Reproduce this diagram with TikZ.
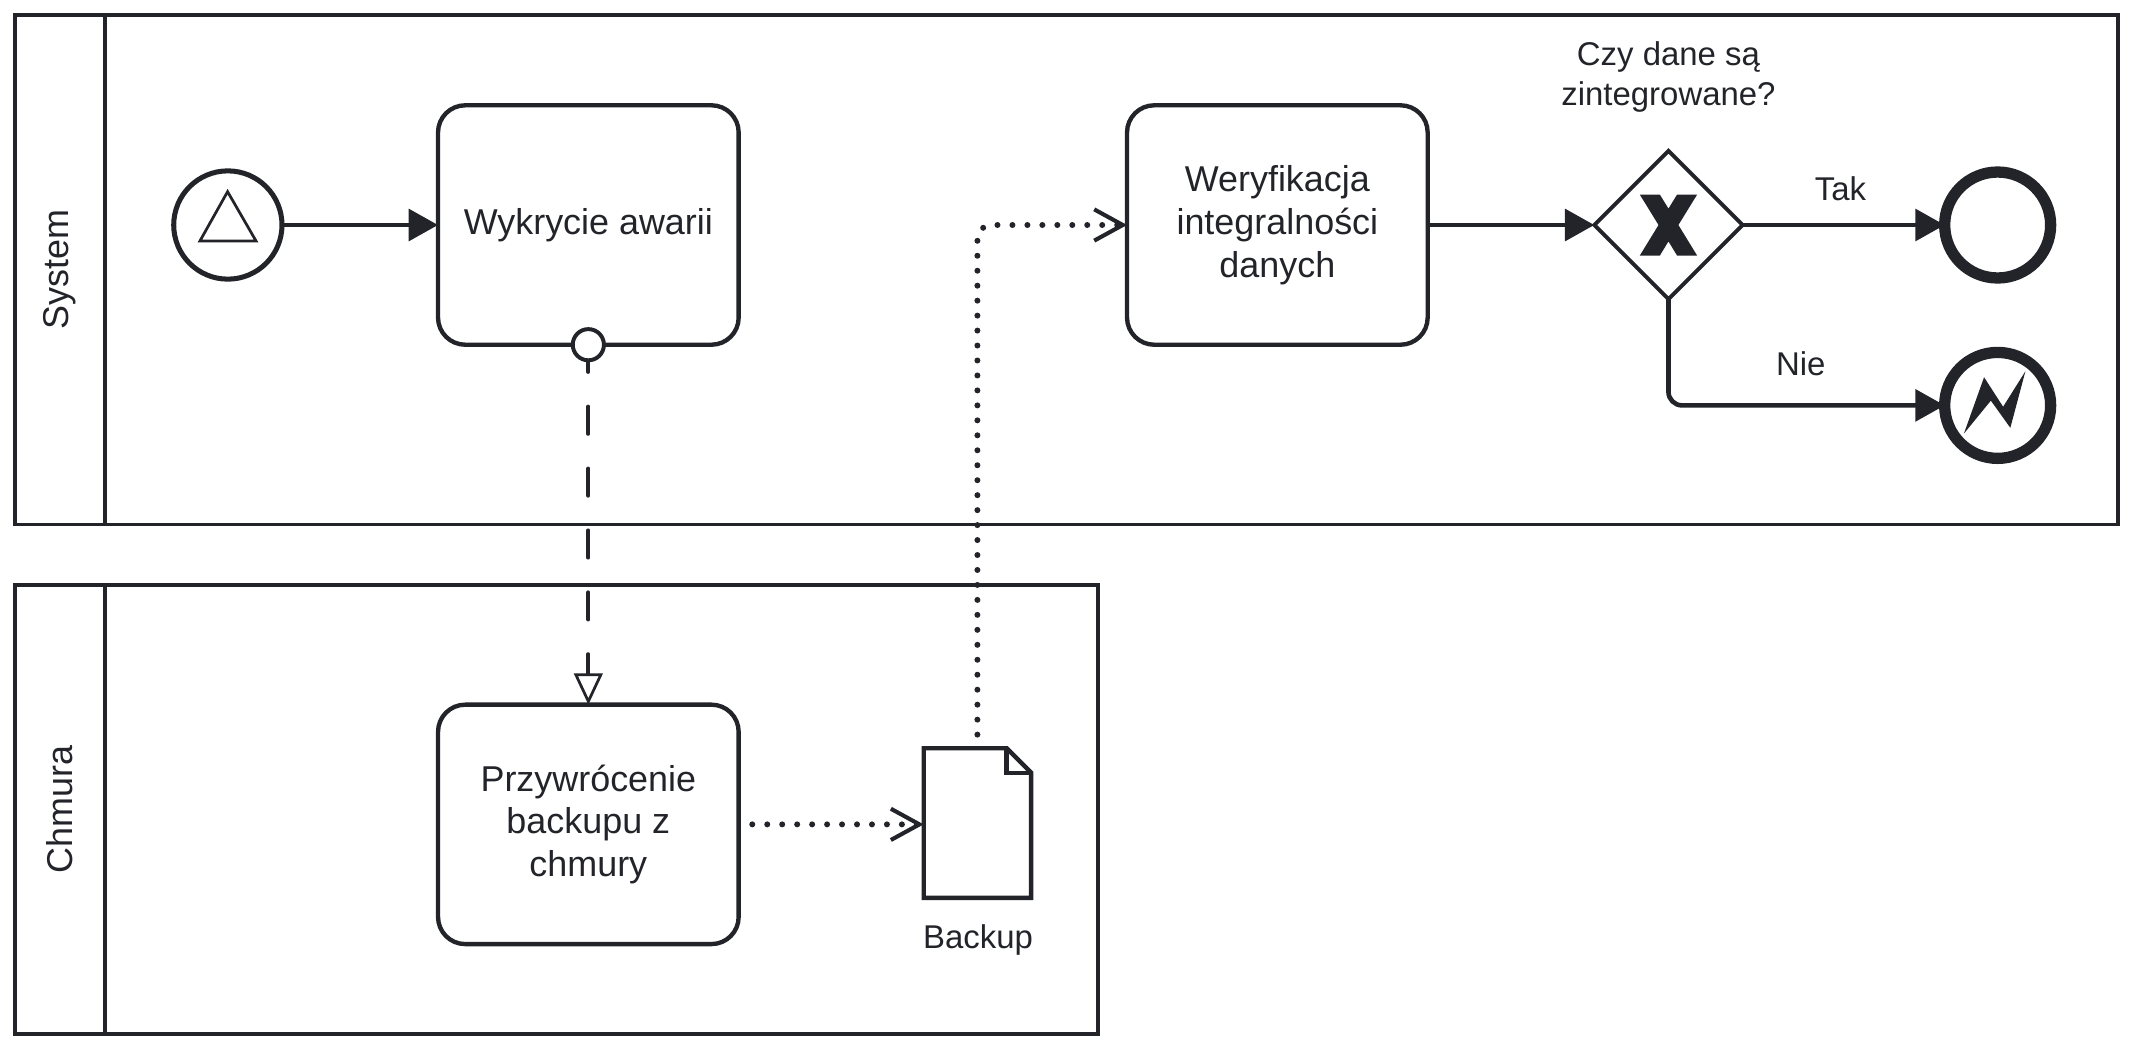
\documentclass[tikz,border=0pt]{standalone}
\usepackage{fontspec}
\setmainfont{Liberation Sans}
\usetikzlibrary{arrows.meta,shapes.geometric,calc}
\definecolor{ink}{HTML}{22242A}
\begin{document}
\begin{tikzpicture}[x=0.5pt,y=-0.5pt,
  every node/.style={text=ink, inner sep=0pt, outer sep=0pt},
  pool/.style={draw=ink, line width=1.25pt, line join=miter},
  task/.style={draw=ink, fill=white, line width=1.6pt, rounded corners=10pt,
    minimum width=110.5pt, minimum height=88pt, align=center,
    font=\fontsize{13.2pt}{15.75pt}\selectfont},
  poolname/.style={rotate=90, font=\fontsize{13.2pt}{15.75pt}\selectfont},
  lbl/.style={align=center, font=\fontsize{12.1pt}{14.5pt}\selectfont},
  flow/.style={draw=ink, line width=1.7pt, -{Triangle[length=10.8pt,width=11.6pt]}},
  msgflow/.style={draw=ink, line width=1.45pt, line cap=round, dash pattern=on 10pt off 12.75pt,
    -{Triangle[length=11.5pt,width=10.5pt,fill=white,line width=1pt]}},
  assoc/.style={draw=ink, line width=2.2pt, line cap=round, dash pattern=on 0pt off 5.5pt,
    -{Straight Barb[length=10.5pt,width=11.5pt,line width=1.5pt]}},
  endev/.style={circle, draw=ink, fill=white, line width=4.15pt, minimum size=38.95pt},
]
\useasboundingbox (0,0) rectangle (1568,772);

% pools
\draw[pool] (11,11) rectangle (1557,385.4);
\draw[pool] (77.2,11) -- (77.2,385.4);
\node[poolname] (sysname) at (44,198) {System};
\draw[pool] (11,430) rectangle (807,760);
\draw[pool] (77.2,430) -- (77.2,760);
\node[poolname] (chname) at (44,595) {Chmura};

% start event
\node[circle, draw=ink, fill=white, line width=1.85pt, minimum size=39.8pt] (start) at (167.5,165.4) {};
\draw[ink, line width=1pt, line join=miter] (167.3,140.9) -- (188.2,177.1) -- (147,177.1) -- cycle;

% tasks
\node[task] (t1) at (432.5,165.4) {Wykrycie awarii};
\node[task] (t2) at (432.5,606) {Przywrócenie\\backupu z\\chmury};
\node[task] (t3) at (939,165.4) {Weryfikacja\\integralności\\danych};

% gateway
\node[diamond, draw=ink, fill=white, line width=1.45pt, minimum width=54.5pt, minimum height=54.5pt] (gw) at (1226.5,165.4) {};
\fill[ink, shift={(gw.center)}] (-21.1,-22.4) -- (-6.35,-22.4) -- (0,-12.05) -- (6.35,-22.4) -- (21.1,-22.4)
  -- (7.3,0) -- (21.1,22.5) -- (6.35,22.5) -- (0,12.05) -- (-6.35,22.5) -- (-21.1,22.5) -- (-7.3,0) -- cycle;
\node[lbl] (gwlbl) at (1226.5,56.5) {Czy dane są\\zintegrowane?};

% end events
\node[endev] (end) at (1468.5,165.4) {};
\node[endev] (err) at (1468.5,298) {};
\fill[ink, shift={(err.center)}] (-24.8,20.7) -- (-10,-20.7) -- (4,1) -- (20.4,-25.1) -- (9.3,16.5) -- (-5,-3.5) -- cycle;

% data object
\node[minimum width=39.5pt, minimum height=55pt] (backup) at (718.5,605) {};
\draw[ink, line width=1.6pt, line join=miter, fill=white] (backup.north west) -- ($(backup.north east)+(-18,0)$)
  -- ($(backup.north east)+(0,18)$) -- (backup.south east) -- (backup.south west) -- cycle;
\draw[ink, line width=1.6pt, line join=miter] ($(backup.north east)+(-18,0)$) -- ($(backup.north east)+(-18,18)$) -- ($(backup.north east)+(0,18)$);
\node[lbl] (backuplbl) at (719,691) {Backup};

% connectors
\draw[flow] (start) -- (t1);
\draw[msgflow] (t1.south) -- (t2.north);
\draw[ink, line width=1.45pt, fill=white] (t1.south) circle[radius=5.73pt];
\draw[assoc, shorten <=5pt] (t2.east) -- (t2.east -| backup.west);
\draw[assoc, shorten <=5pt, rounded corners=5pt] (backup.north) |- (t3.west);
\draw[flow] (t3) -- (gw);
\draw[flow] (gw) -- (end);
\node[lbl] (tak) at (1353,139) {Tak};
\draw[flow, rounded corners=5pt] (gw.south) |- (err.west);
\node[lbl] (nie) at (1323.8,267.5) {Nie};
\end{tikzpicture}
\end{document}
